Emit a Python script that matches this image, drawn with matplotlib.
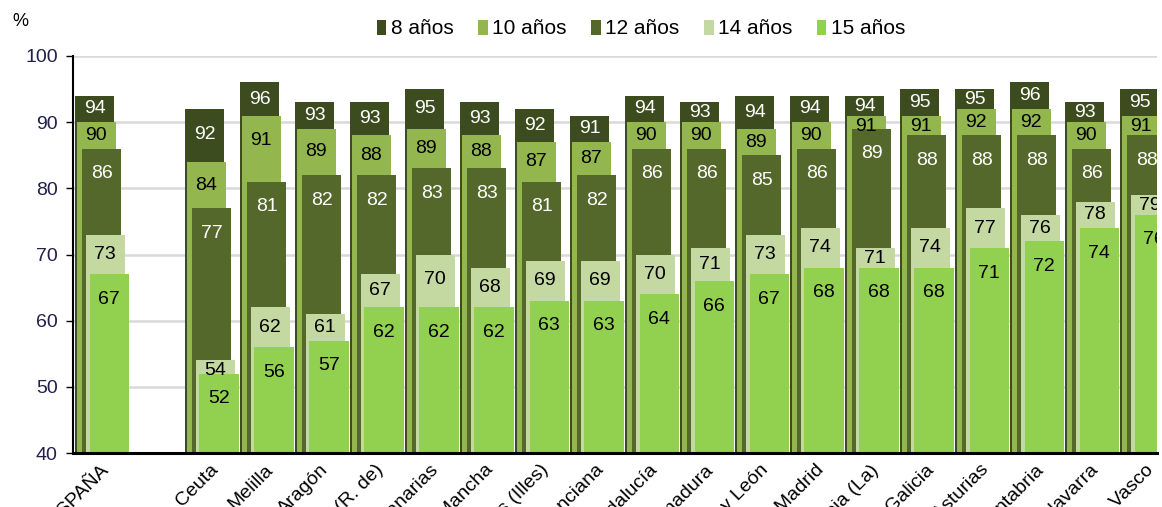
import numpy as np
import matplotlib.pyplot as plt

plt.rcParams['font.family'] = ['Liberation Sans', 'DejaVu Sans']

# datos (% por edad y comunidad)
regiones = ['ESPAÑA', 'Ceuta', 'Melilla', 'Aragón', 'Murcia (R. de)', 'Canarias',
            'Castilla-La Mancha', 'Balears (Illes)', 'Comunitat Valenciana', 'Andalucía',
            'Extremadura', 'Castilla y León', 'Comunidad de Madrid', 'Rioja (La)', 'Galicia',
            'Principado de Asturias', 'Cantabria', 'Comunidad Foral de Navarra', 'País Vasco']
edad_8 = [94, 92, 96, 93, 93, 95, 93, 92, 91, 94, 93, 94, 94, 94, 95, 95, 96, 93, 95]
edad_10 = [90, 84, 91, 89, 88, 89, 88, 87, 87, 90, 90, 89, 90, 91, 91, 92, 92, 90, 91]
edad_12 = [86, 77, 81, 82, 82, 83, 83, 81, 82, 86, 86, 85, 86, 89, 88, 88, 88, 86, 88]
edad_14 = [73, 54, 62, 61, 67, 70, 68, 69, 69, 70, 71, 73, 74, 71, 74, 77, 76, 78, 79]
edad_15 = [67, 52, 56, 57, 62, 62, 62, 63, 63, 64, 66, 67, 68, 68, 68, 71, 72, 74, 76]

# nombre, valores, color barra, color texto, desplazamiento x
series = [
    ('8 años', edad_8, '#3d4c1e', 'white', 0.00),
    ('10 años', edad_10, '#93b74e', 'black', 0.03),
    ('12 años', edad_12, '#55682b', 'white', 0.13),
    ('14 años', edad_14, '#c4d8a2', 'black', 0.19),
    ('15 años', edad_15, '#92d050', 'black', 0.26),
]

# ESPAÑA va sola y luego un hueco
pos = np.array([0] + list(range(2, 2 + len(regiones) - 1)), dtype=float)
ancho = 0.71

fig = plt.figure(figsize=(11.62, 5.07), dpi=100)
ax = fig.add_axes([73 / 1162, 54 / 507, (1157 - 73) / 1162, (453 - 56) / 507])

ax.set_axisbelow(True)
ax.grid(axis='y', color='#d9d9d9', linewidth=1.8)

for i, (nombre, vals, color, ctxt, dx) in enumerate(series):
    x = pos + dx
    ax.bar(x, vals, width=ancho, align='edge', color=color, label=nombre, linewidth=0)
    # la etiqueta va en la parte visible de la barra (entre su techo y el de la siguiente)
    if i + 1 < len(series):
        sig = np.array(series[i + 1][1])
    else:
        sig = np.full(len(vals), -100)
    baja = np.clip((np.array(vals) - sig) / 2, 1.6, 3.8)
    for xi, v, b in zip(x, vals, baja):
        ax.text(xi + ancho / 2, v - b, str(v), ha='center', va='center', fontsize=14,
                color=ctxt, clip_on=True)

ax.set_ylim(40, 100)
ax.set_xlim(-0.04, (1157 - 73) / 55 - 0.04)
ax.set_yticks(range(40, 101, 10))
ax.tick_params(axis='y', labelsize=14, labelcolor='#20204a', length=5, width=1, pad=6)
ax.set_xticks(pos + 0.45)
ax.set_xticklabels(regiones, rotation=45, ha='right', rotation_mode='anchor', fontsize=14)
ax.tick_params(axis='x', length=0, pad=6)

for s in ['top', 'right']:
    ax.spines[s].set_visible(False)
ax.spines['left'].set_linewidth(1.5)
ax.spines['bottom'].set_linewidth(2.2)

fig.text(12 / 1162, 1 - 22 / 507, '%', fontsize=13, va='center')
fig.legend(loc='center', bbox_to_anchor=(641 / 1162, 1 - 29 / 507), ncol=5, frameon=False,
           fontsize=15, handlelength=0.45, handleheight=0.7, handletextpad=0.2,
           columnspacing=1.2)

fig.savefig('out.png', dpi=100)
